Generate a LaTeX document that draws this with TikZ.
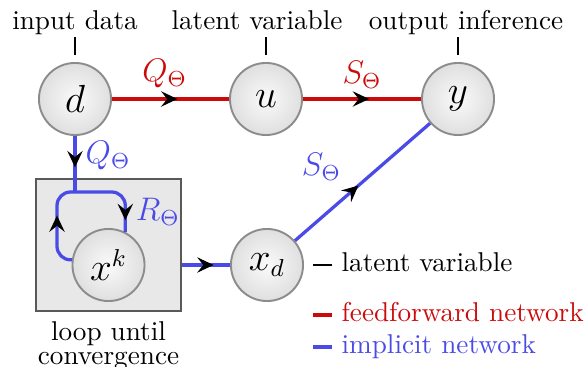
\documentclass[tikz,border=0pt]{standalone}
\usepackage{tikz}
\usetikzlibrary{arrows.meta,positioning,decorations.markings}
\definecolor{ffred}{HTML}{CC0A0A}
\definecolor{implblue}{HTML}{4A4AE6}

\begin{document}
\begin{tikzpicture}[
    x=0.3676pt, y=-0.3676pt,
    every node/.style={font=\fontsize{10}{12}\selectfont},
    var/.style={circle, draw=gray!90, line width=0.7pt, inner sep=0pt,
                minimum size=26.5pt, inner color=gray!4, outer color=gray!25,
                font=\fontsize{13.5}{15}\selectfont},
    loopbox/.style={draw=black!65, line width=0.6pt, fill=gray!18,
                minimum width=53.3pt, minimum height=48.5pt},
    midarr/.style={postaction={decorate}, decoration={markings,
                mark=at position #1 with {\arrow[black]{Stealth[length=6pt, width=5.6pt, inset=2.2pt]}}}},
    midarr/.default=0.55,
    ff/.style={ffred, line width=1.2pt},
    impl/.style={implblue, line width=1.2pt, rounded corners=5pt},
    fn/.style={font=\fontsize{12}{14}\selectfont, text=#1},
    tick/.style={black, line width=0.7pt},
    lgd/.style={anchor=west, text height=6.9pt, text depth=1.9pt},
  ]
  \useasboundingbox (0,0) rectangle (585,367);

  % variables
  \node[var] (d) at (75,99) {$d$};
  \node[var] (u) at (266,99) {$u$};
  \node[var] (y) at (458,99) {$y$};
  \node[var] (xd) at (267,265) {$x_d$};
  \node[loopbox] (loop) at (108.5,245) {};
  \node[var] (xk) at (108.5,265) {$x^k$};
  \node[below=0pt of loop, align=center, font=\fontsize{10}{8.8}\selectfont] (looplbl) {loop until\\convergence};

  % captions on top
  \node[anchor=base] (inlbl) at (75,30) {input data};
  \node[anchor=base] (latlbltop) at (257,30) {latent variable};
  \node[anchor=base] (outlbl) at (466,30) {output inference};
  \draw[tick] ([yshift=2.6pt]d.north) -- ++(0,-18);
  \draw[tick] ([yshift=2.6pt]u.north) -- ++(0,-18);
  \draw[tick] ([yshift=2.6pt]y.north) -- ++(0,-18);

  % feedforward path
  \draw[ff, midarr=0.56] (d) -- node[fn=ffred, above, pos=0.45] {$Q_\Theta$} (u);
  \draw[ff, midarr=0.56] (u) -- node[fn=ffred, above] {$S_\Theta$} (y);

  % implicit path
  \coordinate (j) at (75,192);
  \coordinate (lpcorner) at (57,192);
  \draw[impl, midarr=0.56] (d) -- node[fn=implblue, right, pos=0.35] {$Q_\Theta$} (j);
  \draw[impl, midarr=0.6] (xk.172) -| (lpcorner) -- (j);
  \draw[impl, midarr=0.86] (j) -| node[fn=implblue, right, pos=0.75] {$R_\Theta$} (xk.63);
  \draw[impl, midarr=0.66] (loop.east |- xd) -- (xd);
  \draw[impl, midarr=0.47] (xd) -- node[fn=implblue, above left, pos=0.42] {$S_\Theta$} (y);

  % legend
  \node[lgd] (latlbl) at (332,265) {latent variable};
  \draw[tick] (latlbl.west) -- ++(-19,0);
  \node[lgd, text=ffred] (fflbl) at (332,315) {feedforward network};
  \draw[ff] (fflbl.west) -- ++(-19,0);
  \node[lgd, text=implblue] (impllbl) at (332,347) {implicit network};
  \draw[impl] (impllbl.west) -- ++(-19,0);
\end{tikzpicture}
\end{document}
